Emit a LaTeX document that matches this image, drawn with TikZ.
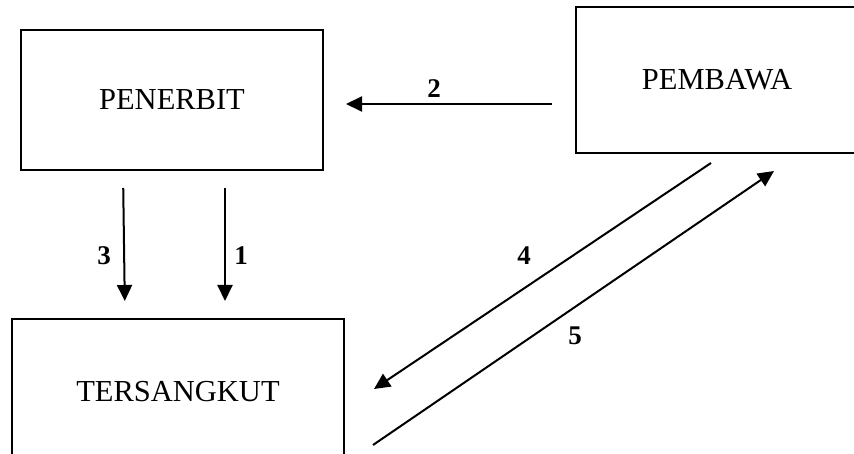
\documentclass[tikz,border=0pt]{standalone}
\usepackage{fontspec}
\setmainfont{Liberation Serif}
\usetikzlibrary{arrows.meta}
\begin{document}
\begin{tikzpicture}[x=1pt,y=-1pt,
  entity/.style={draw,line width=2pt,rectangle,inner sep=0pt,
    font=\fontsize{30.5}{36}\selectfont},
  flow/.style={line width=2pt,-{Triangle[length=16pt,width=15pt]}},
  num/.style={font=\bfseries\fontsize{27}{32}\selectfont,inner sep=0pt}]
\useasboundingbox (0,0) rectangle (854,454);
\clip (0,0) rectangle (854,454);
% the three parties
\node[entity,minimum width=302pt,minimum height=140pt] (penerbit) at (172,100) {PENERBIT};
\node[entity,minimum width=282pt,minimum height=146pt] (pembawa) at (717,80) {PEMBAWA};
\node[entity,minimum width=332pt,minimum height=146pt] (tersangkut) at (178,392) {TERSANGKUT};
% flows between them
\draw[flow,shorten <=23pt,shorten >=22pt] ([yshift=-24pt]pembawa.west) -- ([yshift=-4pt]penerbit.east);
\draw[flow,shorten <=17pt,shorten >=17pt] ([xshift=-49pt]penerbit.south) -- ([xshift=-53pt]tersangkut.north);
\draw[flow,shorten <=17pt,shorten >=17pt] ([xshift=53pt]penerbit.south) -- ([xshift=47pt]tersangkut.north);
\draw[flow] ([xshift=-6pt,yshift=-9pt]pembawa.south) -- ([xshift=29pt,yshift=3pt]tersangkut.east);
\draw[flow] ([xshift=28pt,yshift=-53pt]tersangkut.east) -- ([xshift=57pt,yshift=-17pt]pembawa.south);
% step numbers
\node[num] (n2) at (434,89) {2};
\node[num] (n3) at (104,256) {3};
\node[num] (n1) at (241,256) {1};
\node[num] (n4) at (524,256) {4};
\node[num] (n5) at (575,336) {5};
\end{tikzpicture}
\end{document}
